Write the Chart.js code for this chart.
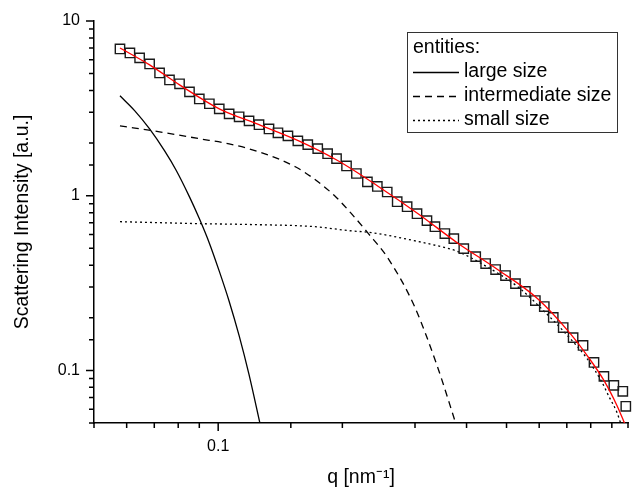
<!DOCTYPE html>
<html>
<head>
<meta charset="utf-8">
<title>Scattering intensity</title>
<script src="https://cdn.jsdelivr.net/npm/chart.js@4/dist/chart.umd.min.js"></script>
<style>
  html, body { margin: 0; padding: 0; background: #fff; }
  #wrap { width: 636px; height: 490px; }
</style>
</head>
<body>
<div id="wrap"><canvas id="chart" width="636" height="490"></canvas></div>
<script>
// ---------------------------
// data
// ---------------------------
// measured points (open squares)
const dataQ = [0.0578, 0.0611, 0.0645, 0.0682, 0.0721, 0.0762, 0.0806, 0.0852, 0.0900, 0.0952,
  0.1006, 0.1063, 0.1124, 0.1188, 0.1256, 0.1328, 0.1396, 0.1476, 0.1560, 0.1649,
  0.1743, 0.1842, 0.1936, 0.2047, 0.2163, 0.2300, 0.2431, 0.2569, 0.2716, 0.2871,
  0.3034, 0.3207, 0.3353, 0.3544, 0.3726, 0.3939, 0.4210, 0.4450, 0.4704, 0.4972,
  0.5256, 0.5556, 0.5873, 0.6173, 0.6490, 0.6860, 0.7251, 0.7664, 0.8147, 0.8611,
  0.9102, 0.9569, 0.973];
const dataI = [6.92, 6.56, 6.15, 5.68, 5.04, 4.60, 4.37, 3.93, 3.58, 3.36,
  3.14, 2.94, 2.83, 2.68, 2.55, 2.41, 2.29, 2.20, 2.06, 1.96,
  1.86, 1.74, 1.63, 1.48, 1.34, 1.20, 1.13, 1.05, 0.924, 0.865,
  0.789, 0.720, 0.665, 0.607, 0.568, 0.498, 0.448, 0.409, 0.378, 0.349,
  0.314, 0.283, 0.251, 0.232, 0.201, 0.176, 0.154, 0.139, 0.111, 0.0924,
  0.0821, 0.0759, 0.0623];

// fit (red line)
const fitQ = [0.0578, 0.0682, 0.0806, 0.1006, 0.1256, 0.1568, 0.1957, 0.2445, 0.3052, 0.381,
  0.4756, 0.594, 0.713, 0.7835, 0.861, 0.926, 0.9675];
const fitI = [7.01, 5.61, 4.31, 3.14, 2.55, 2.06, 1.58, 1.13, 0.789, 0.535,
  0.378, 0.258, 0.163, 0.122, 0.0877, 0.063, 0.0495];

// entities
const largeQ = [0.0578, 0.0628, 0.0682, 0.0741, 0.0792, 0.0852, 0.0900, 0.0952, 0.1006, 0.1063,
  0.1124, 0.1188, 0.1262];
const largeI = [3.73, 3.06, 2.41, 1.81, 1.39, 0.985, 0.74, 0.535, 0.37, 0.249,
  0.158, 0.0945, 0.05];

const midQ = [0.0578, 0.0721, 0.0900, 0.1063, 0.1277, 0.1542, 0.1723, 0.1926, 0.2104, 0.2313,
  0.2584, 0.2985, 0.3391, 0.3769];
const midI = [2.51, 2.32, 2.12, 1.98, 1.76, 1.46, 1.23, 0.987, 0.789, 0.607,
  0.436, 0.235, 0.107, 0.0495];

const smallQ = [0.0578, 0.0900, 0.1235, 0.1714, 0.2070, 0.2351, 0.2985, 0.3467, 0.381, 0.4473,
  0.5315, 0.628, 0.721, 0.7835, 0.8515, 0.8853, 0.926, 0.9466];
const smallI = [0.710, 0.692, 0.683, 0.665, 0.631, 0.615, 0.553, 0.511, 0.479, 0.393,
  0.302, 0.209, 0.148, 0.117, 0.0856, 0.071, 0.0575, 0.0495];

const entityLabels = ['large size', 'intermediate size', 'small size'];
const legendTitle = 'entities:';
const xTitle = 'q [nm\u207B\u00B9]';
const yTitle = 'Scattering Intensity [a.u.]';

// ---------------------------
// helpers
// ---------------------------
const FONT = "'Liberation Sans', Arial, sans-serif";

function toPoints(qs, is) {
  return qs.map((q, i) => ({ x: q, y: is[i] }));
}

function isDecade(v) {
  const e = Math.log10(v);
  return Math.abs(e - Math.round(e)) < 1e-6;
}

function fmt(v) {
  return String(Number(v.toPrecision(6)));
}

// tick marks: long on decades, short elsewhere, drawn outside the axes
const tickMarks = {
  id: 'tickMarks',
  afterDraw(chart) {
    const { ctx, scales: { x, y } } = chart;
    ctx.save();
    ctx.strokeStyle = '#000';
    ctx.lineWidth = 1.5;
    ctx.beginPath();
    x.ticks.forEach(t => {
      const px = x.getPixelForValue(t.value);
      if (px > x.right + 1) return;
      const len = isDecade(t.value) ? 8 : 5;
      ctx.moveTo(px, x.top);
      ctx.lineTo(px, x.top + len);
    });
    y.ticks.forEach(t => {
      const py = y.getPixelForValue(t.value);
      const len = isDecade(t.value) ? 8 : 5;
      ctx.moveTo(y.right, py);
      ctx.lineTo(y.right - len, py);
    });
    ctx.stroke();
    ctx.restore();
  }
};

// framed legend in the upper right of the plot
const entitiesLegend = {
  id: 'entitiesLegend',
  afterDraw(chart) {
    const { ctx, chartArea } = chart;
    const boxX = chartArea.left + 313, boxY = chartArea.top + 11;
    const boxW = 210, boxH = 100;
    ctx.save();
    ctx.strokeStyle = '#333';
    ctx.lineWidth = 1;
    ctx.strokeRect(boxX + 0.5, boxY + 0.5, boxW, boxH);

    ctx.fillStyle = '#000';
    ctx.font = '19.5px ' + FONT;
    ctx.textBaseline = 'middle';
    ctx.textAlign = 'left';
    ctx.fillText(legendTitle, boxX + 6, boxY + 16);

    const sets = chart.data.datasets.filter(d => entityLabels.includes(d.label));
    sets.forEach((d, i) => {
      const rowY = boxY + 40 + i * 24;
      ctx.save();
      ctx.strokeStyle = d.borderColor;
      ctx.lineWidth = d.borderWidth;
      ctx.setLineDash(d.borderDash || []);
      ctx.beginPath();
      ctx.moveTo(boxX + 6, rowY + 0.5);
      ctx.lineTo(boxX + 52, rowY + 0.5);
      ctx.stroke();
      ctx.restore();
      ctx.fillText(d.label, boxX + 57, rowY);
    });
    ctx.restore();
  }
};

// ---------------------------
// chart
// ---------------------------
const ctx = document.getElementById('chart').getContext('2d');

new Chart(ctx, {
  type: 'scatter',
  data: {
    datasets: [
      {
        label: 'fit',
        data: toPoints(fitQ, fitI),
        showLine: true,
        borderColor: '#ff0000',
        borderWidth: 1.3,
        pointRadius: 0,
        cubicInterpolationMode: 'monotone',
        order: 0
      },
      {
        label: 'measured',
        data: toPoints(dataQ, dataI),
        showLine: false,
        clip: false,
        pointStyle: 'rect',
        pointRadius: 6.6,
        borderColor: '#1a1a1a',
        borderWidth: 1.4,
        backgroundColor: 'rgba(0,0,0,0)',
        order: 1
      },
      {
        label: entityLabels[0],
        data: toPoints(largeQ, largeI),
        showLine: true,
        borderColor: '#000',
        borderWidth: 1.3,
        borderDash: [],
        pointRadius: 0,
        cubicInterpolationMode: 'monotone',
        order: 2
      },
      {
        label: entityLabels[1],
        data: toPoints(midQ, midI),
        showLine: true,
        borderColor: '#000',
        borderWidth: 1.3,
        borderDash: [7, 5],
        pointRadius: 0,
        cubicInterpolationMode: 'monotone',
        order: 3
      },
      {
        label: entityLabels[2],
        data: toPoints(smallQ, smallI),
        showLine: true,
        borderColor: '#000',
        borderWidth: 1.3,
        borderDash: [2, 3],
        pointRadius: 0,
        cubicInterpolationMode: 'monotone',
        order: 4
      }
    ]
  },
  options: {
    responsive: false,
    animation: false,
    events: [],
    layout: { padding: { top: 21, right: -4, left: 0, bottom: 0 } },
    plugins: {
      legend: { display: false },
      tooltip: { enabled: false }
    },
    scales: {
      x: {
        type: 'logarithmic',
        min: 0.05,
        max: 0.985,
        afterFit: s => { s.height = 67; },
        grid: { display: false, drawTicks: true, tickLength: 14 },
        border: { display: true, color: '#000', width: 1.5 },
        ticks: {
          autoSkip: false,
          maxRotation: 0,
          padding: 0,
          color: '#000',
          font: { family: FONT, size: 16 },
          callback: v => (isDecade(v) && v < 0.5) ? fmt(v) : ''
        },
        title: {
          display: true,
          text: xTitle,
          color: '#000',
          font: { family: FONT, size: 19.5, lineHeight: 1.2 },
          padding: { top: 0, bottom: 1 }
        }
      },
      y: {
        type: 'logarithmic',
        min: 0.05,
        max: 10,
        afterFit: s => { s.width = 94; },
        grid: { display: false, drawTicks: true, tickLength: 8 },
        border: { display: true, color: '#000', width: 1.5 },
        ticks: {
          autoSkip: false,
          padding: 6,
          color: '#000',
          font: { family: FONT, size: 16 },
          callback: v => isDecade(v) ? fmt(v) : ''
        },
        title: {
          display: true,
          text: yTitle,
          color: '#000',
          font: { family: FONT, size: 19.5, lineHeight: 1.2 },
          padding: { top: 11, bottom: 0 }
        }
      }
    }
  },
  plugins: [tickMarks, entitiesLegend]
});
</script>
</body>
</html>
